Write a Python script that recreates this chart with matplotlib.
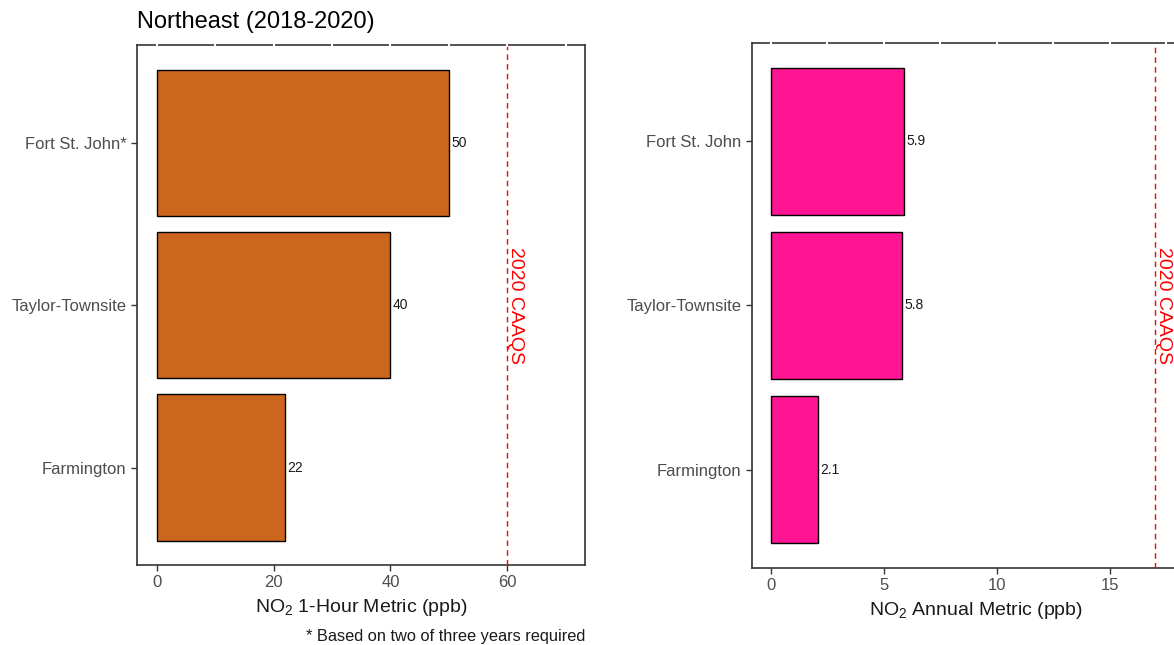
import matplotlib.pyplot as plt

plt.rcParams['font.family'] = ['Liberation Sans', 'DejaVu Sans']
plt.rcParams['mathtext.default'] = 'regular'

# station data (bottom to top)
sites_1hr = ['Farmington', 'Taylor-Townsite', 'Fort St. John*']
vals_1hr = [22, 40, 50]
sites_ann = ['Farmington', 'Taylor-Townsite', 'Fort St. John']
vals_ann = [2.1, 5.8, 5.9]
caaqs_1hr = 60
caaqs_ann = 17

fig = plt.figure(figsize=(11.74, 6.45), dpi=100)
ax1 = fig.add_axes([0.1167, 0.124, 0.3816, 0.806])
ax2 = fig.add_axes([0.6405, 0.1194, 0.3816, 0.814])


def panel(ax, sites, vals, color, std, xlim, ticks, gap, label, fmt):
    pos = range(1, len(sites) + 1)
    ax.barh(pos, vals, height=0.9, color=color, edgecolor='black', linewidth=1, zorder=2)
    for p, v in zip(pos, vals):
        ax.annotate(fmt.format(v), (v, p), xytext=(1.5, 0), textcoords='offset points',
                    ha='left', va='center', fontsize=10, color='#1a1a1a')
    ax.axvline(std, color='red', linestyle=(0, (4, 3)), linewidth=1, zorder=3)
    ax.text(std, 2, '2020 CAAQS', rotation=-90, color='red', fontsize=14,
            ha='left', va='center')
    ax.set_xlim(*xlim)
    ax.set_ylim(0.4, 3.6)
    ax.set_yticks(list(pos))
    ax.set_yticklabels(sites)
    ax.set_xticks(ticks)
    ax.tick_params(colors='#333333', labelcolor='#4d4d4d', labelsize=12, length=4, width=1)
    for s in ax.spines.values():
        s.set_color('#333333')
        s.set_linewidth(1.2)
    # white breaks along the top border
    k = 0
    while k * gap <= xlim[1]:
        ax.plot([k * gap, k * gap], [3.592, 3.608], color='white', linewidth=1.5,
                clip_on=False, zorder=5)
        k += 1
    ax.set_xlabel(label, fontsize=14, color='#1a1a1a', labelpad=5)


panel(ax1, sites_1hr, vals_1hr, '#cd661d', caaqs_1hr, (-3.37, 73.3),
      [0, 20, 40, 60], 10, r'NO$_2$ 1-Hour Metric (ppb)', '{:g}')
panel(ax2, sites_ann, vals_ann, '#ff1493', caaqs_ann, (-0.84, 18.98),
      [0, 5, 10, 15], 2.5, r'NO$_2$ Annual Metric (ppb)', '{:.1f}')

ax1.set_title('Northeast (2018-2020)', loc='left', fontsize=17, pad=12)
fig.text(585 / 1174, 1 - 637 / 645, '* Based on two of three years required',
         ha='right', va='center', fontsize=11.8, color='#1a1a1a')

fig.savefig('out.png', dpi=100)
